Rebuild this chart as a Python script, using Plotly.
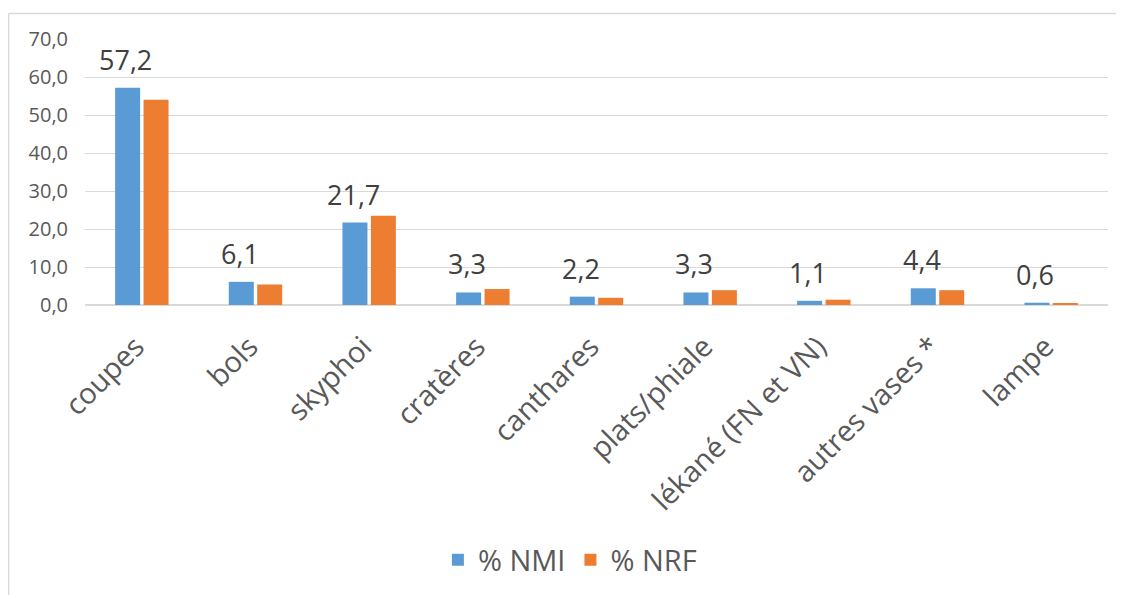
import plotly.graph_objects as go

categories = ["coupes", "bols", "skyphoi", "cratères", "canthares", "plats/phiale",
              "lékané (FN et VN)", "autres vases *", "lampe"]
nmi = [57.2, 6.1, 21.7, 3.3, 2.2, 3.3, 1.1, 4.4, 0.6]
nrf = [54.0, 5.4, 23.5, 4.2, 1.9, 3.9, 1.4, 3.9, 0.5]
y_ticks = [0, 10, 20, 30, 40, 50, 60, 70]

FONT = "Open Sans"
GREY = "#595959"

fig = go.Figure()
fig.add_trace(go.Bar(name="% NMI", x=categories, y=nmi, marker_color="#5B9BD5",
                     marker_line_width=0))
fig.add_trace(go.Bar(name="% NRF", x=categories, y=nrf, marker_color="#ED7D31",
                     marker_line_width=0))

for c, v in zip(categories, nmi):
    fig.add_annotation(x=c, y=v, xref="x", yref="y", text=f"{v:.1f}".replace(".", ","),
                       showarrow=False, yanchor="bottom", xshift=-16, yshift=8,
                       font=dict(family=FONT, size=27, color="#404040"))

W, H = 1124, 595
OFF = 8  # page body margin
L, T = 85 - OFF, 39 - OFF
R = W - (1108 - OFF)
B = H - (305 - OFF)
pw, ph = W - L - R, H - T - B
top_y = (T + ph - (13.5 - OFF)) / ph
left_x = (0.5 - L) / pw
fig.add_shape(type="line", xref="paper", yref="paper",
              x0=left_x, x1=(W - L) / pw, y0=top_y, y1=top_y,
              line=dict(color="#D9D9D9", width=1.5), layer="below")
fig.add_shape(type="line", xref="paper", yref="paper",
              x0=left_x, x1=left_x, y0=top_y, y1=-B / ph,
              line=dict(color="#D9D9D9", width=1.5), layer="below")

fig.update_layout(
    width=W, height=H,
    margin=dict(l=L, r=R, t=T, b=B, autoexpand=False),
    barmode="group", bargap=0.5, bargroupgap=0.12,
    plot_bgcolor="white", paper_bgcolor="white",
    separators=", ",
    font=dict(family=FONT, color=GREY),
    showlegend=True,
    legend=dict(orientation="h", x=0.474, xanchor="center", yref="container",
                y=1 - (560 - OFF) / H, yanchor="middle",
                font=dict(size=29, color=GREY), itemwidth=30),
    xaxis=dict(tickangle=-45, tickfont=dict(size=29, color=GREY), showline=False,
               ticks="", automargin=False, ticklabelstandoff=18, ticklabelshift=-6),
    yaxis=dict(range=[0, 70], tickvals=y_ticks, tickformat=".1f",
               tickfont=dict(size=20, color=GREY), gridcolor="#D9D9D9", gridwidth=1,
               zeroline=True, zerolinecolor="#D9D9D9", showline=False, ticks="",
               ticklabelstandoff=16, automargin=False),
)

fig.write_html("out.html")
